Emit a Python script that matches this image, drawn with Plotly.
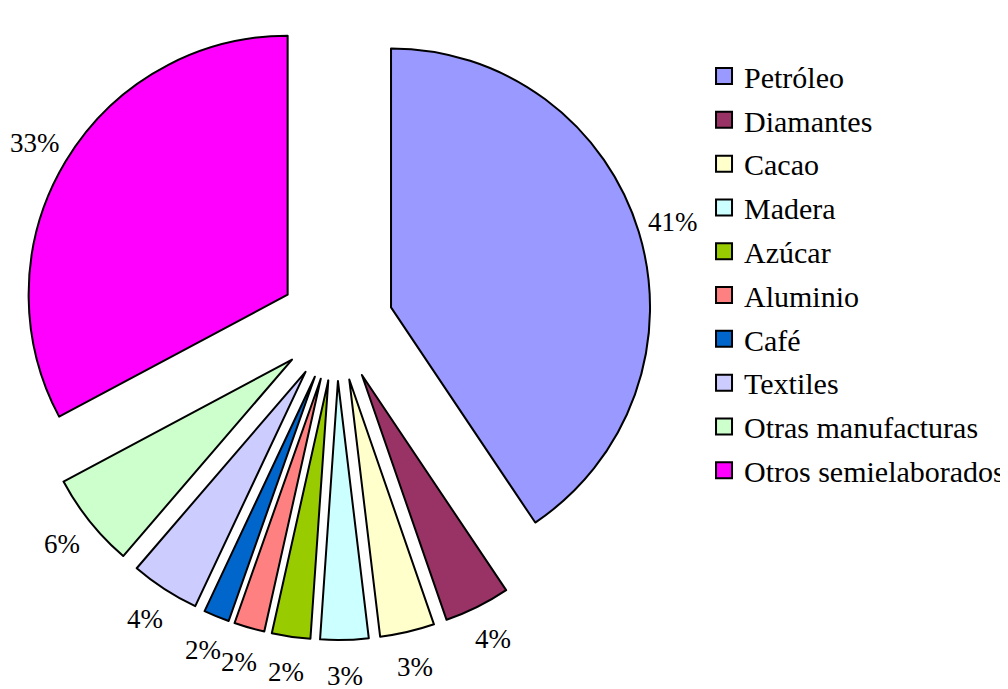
import math
import plotly.graph_objects as go

categories = ["Petróleo", "Diamantes", "Cacao", "Madera", "Azúcar", "Aluminio",
              "Café", "Textiles", "Otras manufacturas", "Otros semielaborados"]
shares = [40.6, 4.1, 3.4, 3.0, 2.4, 1.9, 1.6, 4.3, 5.9, 32.8]
colors = ["#9999FF", "#993366", "#FFFFCC", "#CCFFFF", "#99CC00", "#FF8080",
          "#0066CC", "#CCCCFF", "#CCFFCC", "#FF00FF"]

FONT = "Liberation Serif, Times New Roman, serif"
W, H = 1008, 689
PULL = 0.22
DOM_X = [0.0, 0.6518]
DOM_Y = [1 - 632 / H, 1.0]

fig = go.Figure()
fig.add_trace(go.Pie(
    labels=categories, values=shares, sort=False, direction="clockwise", rotation=0,
    pull=PULL, marker=dict(colors=colors, line=dict(color="black", width=2)),
    textinfo="none", showlegend=False,
    domain=dict(x=DOM_X, y=DOM_Y), hoverinfo="label+percent",
))

# percentage labels placed radially outside each slice (same geometry as the pie)
cx = (DOM_X[0] + DOM_X[1]) / 2 * W
cy = (1 - (DOM_Y[0] + DOM_Y[1]) / 2) * H
rad = min((DOM_X[1] - DOM_X[0]) * W, (DOM_Y[1] - DOM_Y[0]) * H) / 2 / (1 + PULL)
label_r = rad * (1 + PULL) + 36
total = sum(shares)
cum = 0.0
for s in shares:
    mid = math.radians((cum + s / 2) / total * 360)
    cum += s
    px = cx + label_r * math.sin(mid)
    py = cy - label_r * math.cos(mid)
    fig.add_annotation(
        x=px / W, y=1 - py / H, xref="paper", yref="paper",
        text="%d%%" % round(s / total * 100), showarrow=False,
        xanchor="center", yanchor="middle",
        font=dict(family=FONT, size=27, color="black"),
    )

for i, (name, col) in enumerate(zip(categories, colors)):
    fig.add_trace(go.Scatter(
        x=[None], y=[None], mode="markers", name=name, legendgroup="g%d" % i,
        marker=dict(symbol="square", size=16, color=col, line=dict(color="black", width=2)),
        showlegend=True,
    ))

fig.update_layout(
    width=W, height=H, margin=dict(l=0, r=0, t=0, b=0, autoexpand=False),
    paper_bgcolor="white", plot_bgcolor="white",
    xaxis=dict(visible=False), yaxis=dict(visible=False),
    legend=dict(x=0.6905, y=0.939, xanchor="left", yanchor="top",
                traceorder="grouped", tracegroupgap=1.8,
                font=dict(family=FONT, size=30, color="black"),
                bgcolor="rgba(0,0,0,0)"),
)
fig.write_html("out.html")
